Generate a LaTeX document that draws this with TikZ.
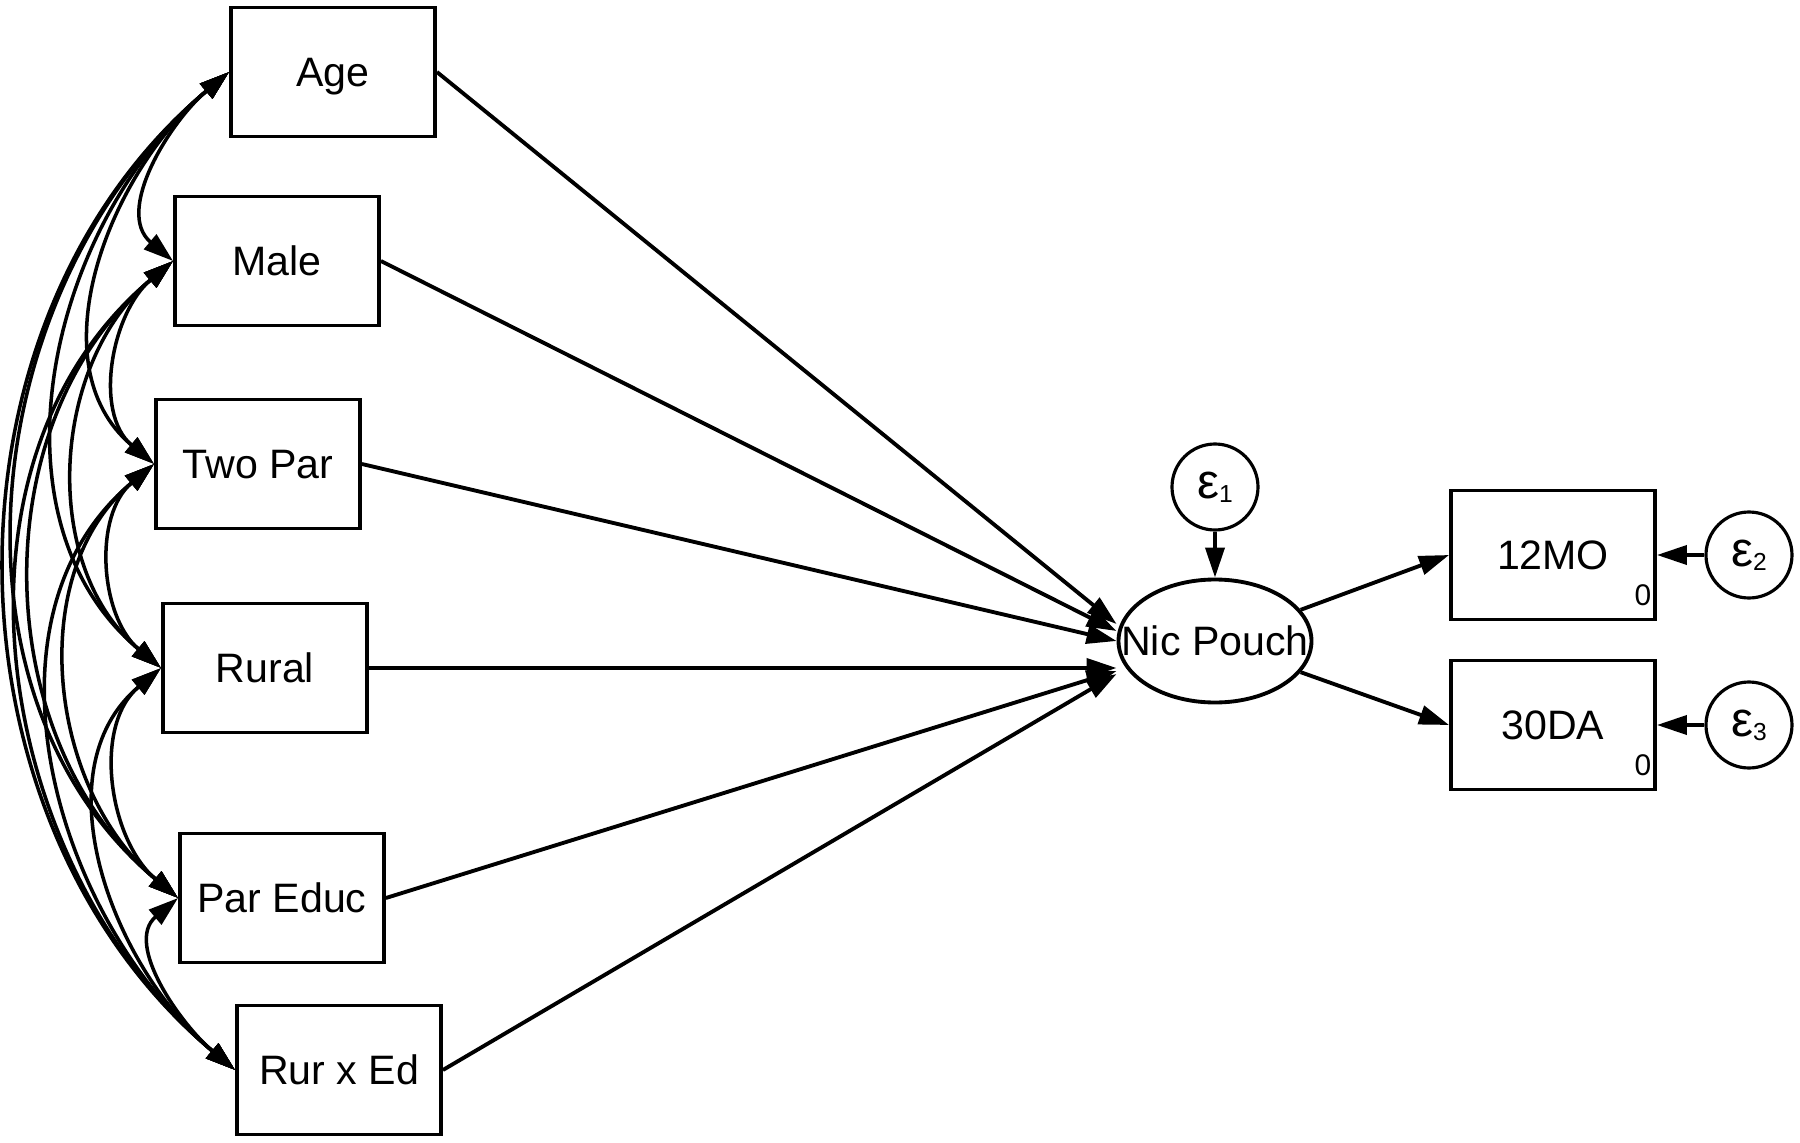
\documentclass[tikz,border=0pt]{standalone}
\usepackage{fontspec}
\setmainfont{Liberation Sans}
\usetikzlibrary{arrows.meta,shapes.geometric}

\newcommand{\errlab}[1]{ε\raisebox{-1.2pt}{\fontsize{7}{8}\selectfont #1}}

\begin{document}
\begin{tikzpicture}[>={Triangle[length=0.3cm,width=0.19cm]},
        obs/.style={draw,line width=1.1pt,minimum width=2.04cm,minimum height=1.29cm,
            inner sep=0pt,text depth=0pt,font=\fontsize{11.7}{13}\selectfont},
        lat/.style={draw,ellipse,line width=1.1pt,minimum width=1.93cm,minimum height=1.23cm,
            inner sep=0pt,text depth=0pt,font=\fontsize{11.7}{13}\selectfont},
        err/.style={draw,circle,line width=0.9pt,minimum size=0.86cm,inner sep=0pt,
            font=\fontsize{14}{16}\selectfont},
        regr/.style={->,line width=1.1pt},
        cov/.style={<->,line width=1pt}]
        \useasboundingbox (0,0) rectangle (18,-11.43);

        % exogenous variables
        \node[obs] (age) at (3.33,-0.72) {Age};
        \node[obs] (male) at (2.77,-2.61) {Male};
        \node[obs] (twopar) at (2.58,-4.64) {Two Par};
        \node[obs] (rural) at (2.65,-6.68) {Rural};
        \node[obs] (pared) at (2.82,-8.98) {Par Educ};
        \node[obs] (rured) at (3.39,-10.70) {Rur x Ed};

        % latent variable and outcomes
        \node[lat] (np) at (12.15,-6.41) {\makebox[0pt]{Nic Pouch}};
        \node[err] (e1) at (12.15,-4.87) {\errlab{1}};
        \node[obs] (m12) at (15.53,-5.55) {12MO};
        \node[obs] (d30) at (15.53,-7.25) {30DA};
        \node[err] (e2) at (17.49,-5.55) {\errlab{2}};
        \node[err] (e3) at (17.49,-7.25) {\errlab{3}};
        \node[font=\fontsize{8.5}{9}\selectfont] (m12c) at ([xshift=-0.14cm,yshift=0.26cm]m12.south east) {0};
        \node[font=\fontsize{8.5}{9}\selectfont] (d30c) at ([xshift=-0.14cm,yshift=0.26cm]d30.south east) {0};

        % paths into Nic Pouch
        \foreach \v/\s in {age/0.17,male/0.10,twopar/0,rural/-0.27,pared/-0.30,rured/-0.33}
                \draw[regr] (\v.east) -- ([yshift=\s cm]np.west);

        % paths out of Nic Pouch and errors
        \draw[regr] (np.20) -- (m12.west);
        \draw[regr] (np.340) -- (d30.west);
        \draw[regr] (e1) -- (np);
        \draw[regr] (e2) -- (m12);
        \draw[regr] (e3) -- (d30);

        % covariances
        \foreach \a/\others in {age/{male,twopar,rural,pared,rured},
                male/{twopar,rural,pared,rured},twopar/{rural,pared,rured},
                rural/{pared,rured},pared/{rured}}
                \foreach \b in \others
                        \draw[cov] (\a.west) to[out=220,in=140] (\b.west);
\end{tikzpicture}
\end{document}
